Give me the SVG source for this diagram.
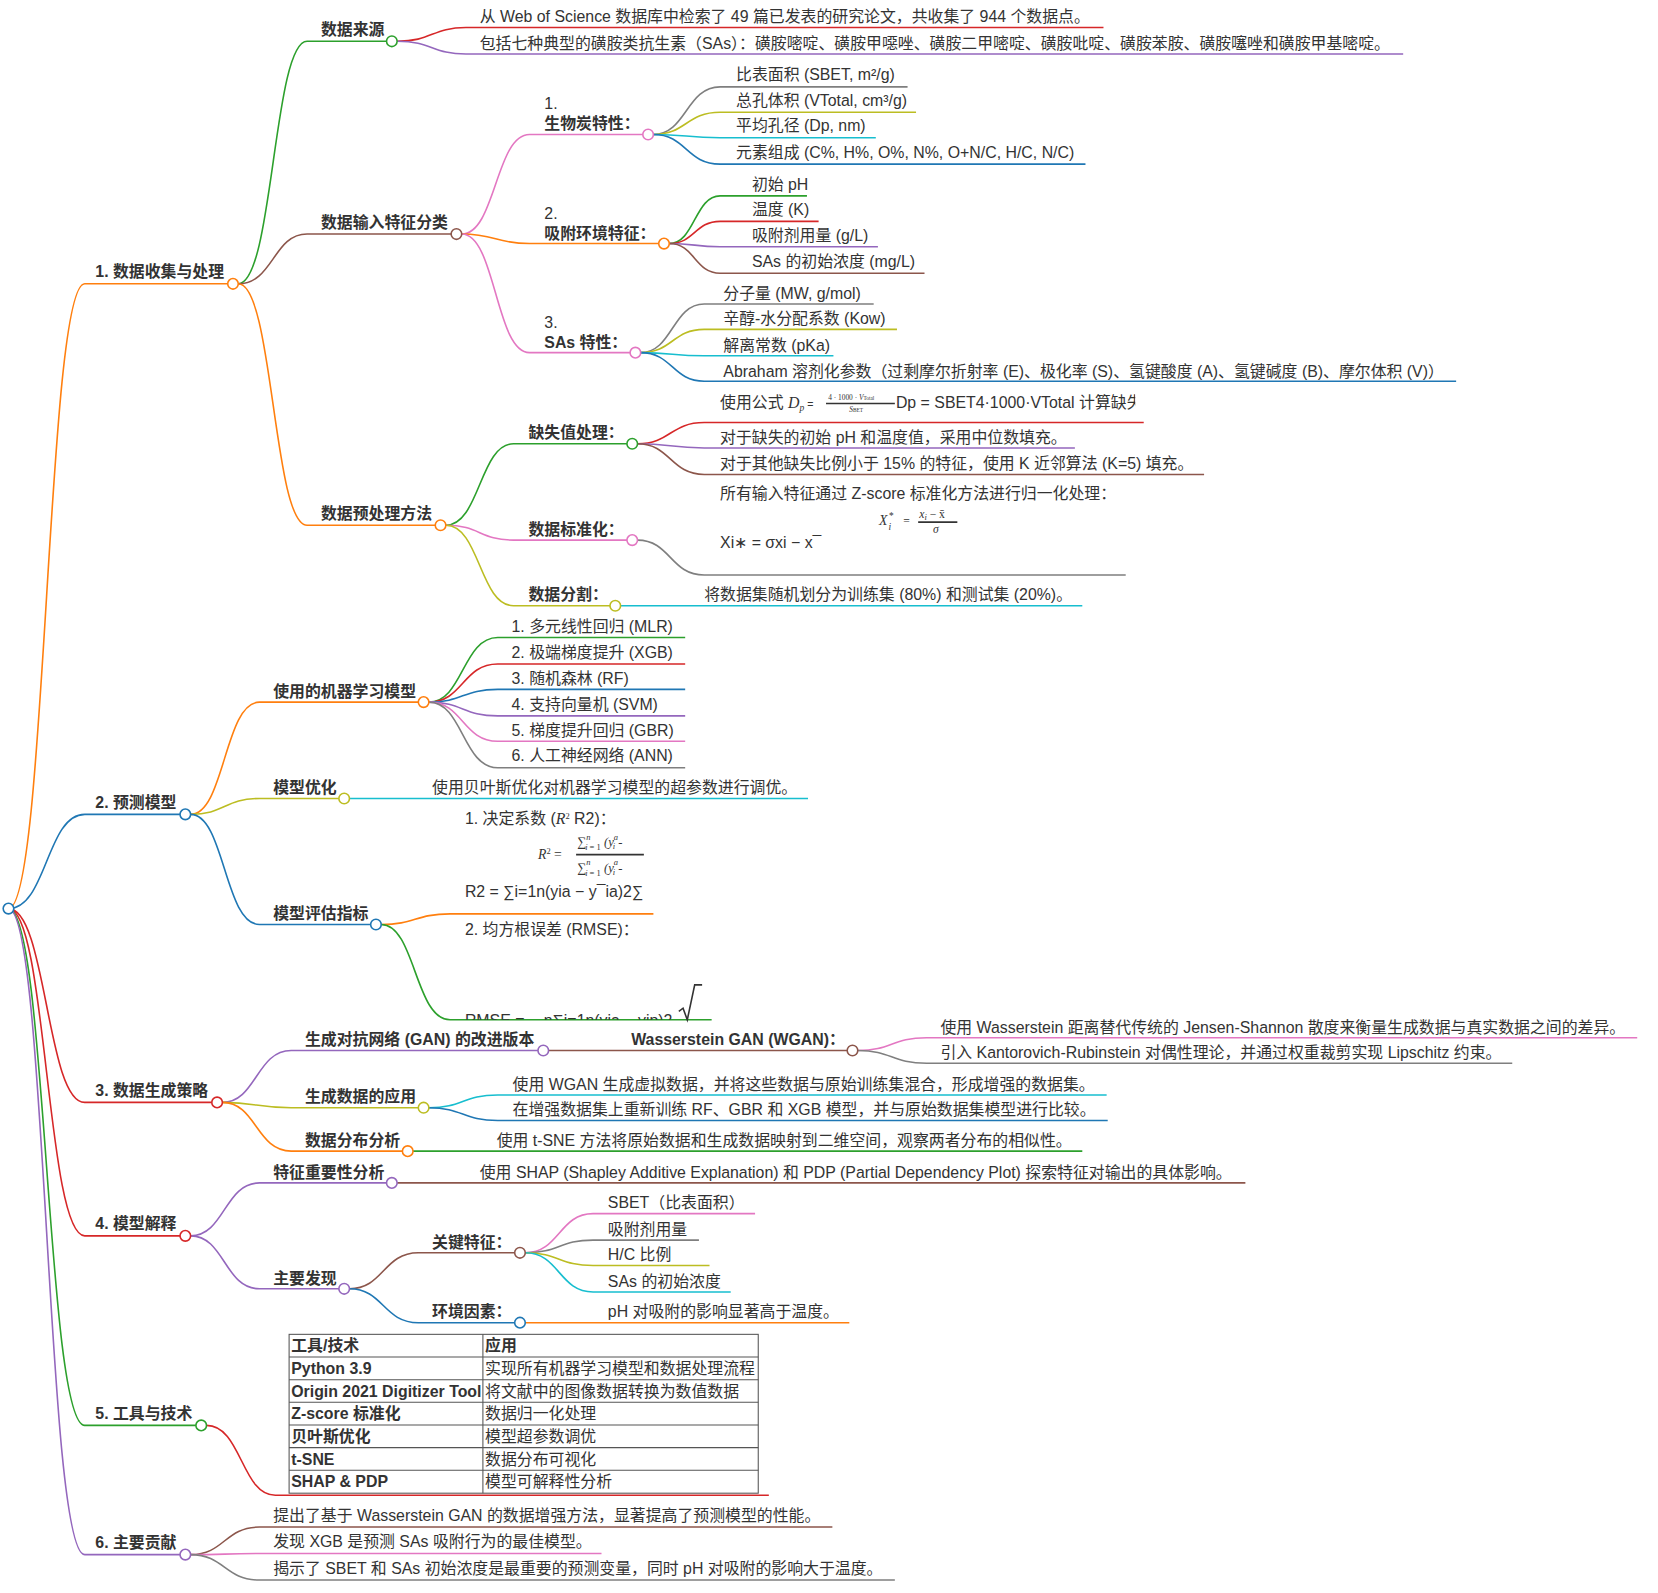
<svg xmlns="http://www.w3.org/2000/svg" width="1658" height="1593" viewBox="0 0 1658 1593">
<style>
svg{font-family:"Liberation Sans","Noto Sans CJK SC",sans-serif;font-size:15px}
text{fill:#333}
.b{font-weight:bold}
.m{font-family:"Liberation Serif","Noto Sans CJK SC",serif;font-style:italic}
path{fill:none;stroke-width:1.5}
circle{fill:#fff;stroke-width:1.5}
.G{stroke:#2ca02c}.O{stroke:#ff7f0e}.B{stroke:#1f77b4}.R{stroke:#d62728}.P{stroke:#9467bd}.N{stroke:#8c564b}.K{stroke:#e377c2}.Y{stroke:#7f7f7f}.L{stroke:#bcbd22}.C{stroke:#17becf}
.tb{fill:none;stroke:#555;stroke-width:1}
</style>
<defs>
<clipPath id="c1"><rect x="600" y="360" width="472" height="40"/></clipPath>
<clipPath id="c2"><rect x="400" y="780" width="208" height="60"/></clipPath>
<clipPath id="c3"><rect x="400" y="940" width="300" height="23"/></clipPath>
</defs>
<rect width="1658" height="1593" fill="#fff"/>
<g transform="scale(1.059)">
<g id="connectors">
<path class="O" d="M8 858 C44 858,44 268,80 268 H220"/>
<path class="B" d="M8 858 C44 858,44 769,80 769 H175"/>
<path class="R" d="M8 858 C44 858,44 1041,80 1041 H205"/>
<path class="R" d="M8 858 C44 858,44 1167,80 1167 H175"/>
<path class="G" d="M8 858 C44 858,44 1346,80 1346 H190"/>
<path class="P" d="M8 858 C44 858,44 1468,80 1468 H175"/>
<path class="G" d="M225 268 C258 268,258 39,290 39 H370"/>
<path class="N" d="M225 268 C258 268,258 221,290 221 H431"/>
<path class="O" d="M225 268 C258 268,258 496,290 496 H416"/>
<path class="R" d="M375 39 C408 39,408 26,440 26 H1042"/>
<path class="P" d="M375 39 C408 39,408 51,440 51 H1325"/>
<path class="K" d="M436 221 C468 221,468 127,500 127 H612"/>
<path class="O" d="M436 221 C468 221,468 230,500 230 H627"/>
<path class="K" d="M436 221 C468 221,468 333,500 333 H600"/>
<path class="Y" d="M617 127 C648 127,648 82,680 82 H857"/>
<path class="L" d="M617 127 C648 127,648 106,680 106 H865"/>
<path class="C" d="M617 127 C648 127,648 130,680 130 H827"/>
<path class="B" d="M617 127 C648 127,648 155,680 155 H1025"/>
<path class="G" d="M632 230 C656 230,656 185,680 185 H762"/>
<path class="R" d="M632 230 C656 230,656 209,680 209 H773"/>
<path class="P" d="M632 230 C656 230,656 233,680 233 H829"/>
<path class="N" d="M632 230 C656 230,656 258,680 258 H873"/>
<path class="Y" d="M605 333 C635 333,635 287,665 287 H825"/>
<path class="L" d="M605 333 C635 333,635 311,665 311 H847"/>
<path class="C" d="M605 333 C635 333,635 336,665 336 H787"/>
<path class="B" d="M605 333 C635 333,635 360,665 360 H1375"/>
<path class="G" d="M421 496 C453 496,453 419,485 419 H597"/>
<path class="K" d="M421 496 C453 496,453 510,485 510 H597"/>
<path class="L" d="M421 496 C453 496,453 572,485 572 H581"/>
<path class="R" d="M602 419 C633 419,633 399,665 399 H1080"/>
<path class="P" d="M602 419 C633 419,633 423,665 423 H1015"/>
<path class="N" d="M602 419 C633 419,633 448,665 448 H1137"/>
<path class="Y" d="M602 510 C633 510,633 543,665 543 H1063"/>
<path class="C" d="M586 572 H1022"/>
<path class="O" d="M180 769 C212 769,212 663,245 663 H400"/>
<path class="L" d="M180 769 C212 769,212 754,245 754 H325"/>
<path class="B" d="M180 769 C212 769,212 873,245 873 H355"/>
<path class="G" d="M405 663 C437 663,437 602,470 602 H647"/>
<path class="R" d="M405 663 C437 663,437 627,470 627 H647"/>
<path class="B" d="M405 663 C437 663,437 651,470 651 H647"/>
<path class="P" d="M405 663 C437 663,437 676,470 676 H647"/>
<path class="K" d="M405 663 C437 663,437 700,470 700 H647"/>
<path class="Y" d="M405 663 C437 663,437 725,470 725 H647"/>
<path class="C" d="M330 754 C362 754,362 754,395 754 H763"/>
<path class="O" d="M360 873 C392 873,392 863,425 863 H617"/>
<path class="G" d="M360 873 C392 873,392 963,425 963 H672"/>
<path class="P" d="M210 1041 C242 1041,242 992,275 992 H513"/>
<path class="L" d="M210 1041 C242 1041,242 1046,275 1046 H400"/>
<path class="O" d="M210 1041 C242 1041,242 1087,275 1087 H385"/>
<path class="N" d="M518 992 H805"/>
<path class="K" d="M810 992 C842 992,842 980,875 980 H1546"/>
<path class="Y" d="M810 992 C842 992,842 1004,875 1004 H1428"/>
<path class="C" d="M405 1046 C437 1046,437 1034,470 1034 H1045"/>
<path class="B" d="M405 1046 C437 1046,437 1058,470 1058 H1046"/>
<path class="G" d="M390 1087 C422 1087,422 1087,455 1087 H1022"/>
<path class="P" d="M180 1167 C212 1167,212 1117,245 1117 H370"/>
<path class="P" d="M180 1167 C212 1167,212 1217,245 1217 H325"/>
<path class="N" d="M375 1117 C407 1117,407 1117,440 1117 H1176"/>
<path class="N" d="M330 1217 C362 1217,362 1183,395 1183 H491"/>
<path class="B" d="M330 1217 C362 1217,362 1249,395 1249 H491"/>
<path class="K" d="M496 1183 C528 1183,528 1146,560 1146 H713"/>
<path class="Y" d="M496 1183 C528 1183,528 1171,560 1171 H660"/>
<path class="L" d="M496 1183 C528 1183,528 1195,560 1195 H670"/>
<path class="C" d="M496 1183 C528 1183,528 1220,560 1220 H690"/>
<path class="O" d="M496 1249 C528 1249,528 1249,560 1249 H802"/>
<path class="R" d="M195 1346 C228 1346,228 1412,260 1412 H726"/>
<path class="N" d="M180 1468 C212 1468,212 1442,245 1442 H786"/>
<path class="K" d="M180 1468 C212 1468,212 1467,245 1467 H568"/>
<path class="Y" d="M180 1468 C212 1468,212 1492,245 1492 H845"/>
</g>
<g id="root"><circle class="B" cx="8" cy="858" r="5"/></g>
<g id="n1"><text class="b" x="90" y="262">1. 数据收集与处理</text><circle class="O" cx="220" cy="268" r="5"/></g>
<g id="n2"><text class="b" x="90" y="763">2. 预测模型</text><circle class="B" cx="175" cy="769" r="5"/></g>
<g id="n3"><text class="b" x="90" y="1035">3. 数据生成策略</text><circle class="R" cx="205" cy="1041" r="5"/></g>
<g id="n4"><text class="b" x="90" y="1161">4. 模型解释</text><circle class="R" cx="175" cy="1167" r="5"/></g>
<g id="n5"><text class="b" x="90" y="1340">5. 工具与技术</text><circle class="G" cx="190" cy="1346" r="5"/></g>
<g id="n6"><text class="b" x="90" y="1462">6. 主要贡献</text><circle class="P" cx="175" cy="1468" r="5"/></g>
<g id="n11"><text class="b" x="303" y="33">数据来源</text><circle class="G" cx="370" cy="39" r="5"/></g>
<g id="n11a"><text x="453" y="21">从 Web of Science 数据库中检索了 49 篇已发表的研究论文，共收集了 944 个数据点。</text></g>
<g id="n11b"><text x="453" y="46">包括七种典型的磺胺类抗生素（SAs）：磺胺嘧啶、磺胺甲噁唑、磺胺二甲嘧啶、磺胺吡啶、磺胺苯胺、磺胺噻唑和磺胺甲基嘧啶。</text></g>
<g id="n12"><text class="b" x="303" y="215">数据输入特征分类</text><circle class="N" cx="431" cy="221" r="5"/></g>
<g id="n121"><text x="514" y="103">1.</text><text class="b" x="514" y="122">生物炭特性：</text><circle class="K" cx="612" cy="127" r="5"/></g>
<g id="n121l"><text x="695" y="76">比表面积 (SBET, m²/g)</text><text x="695" y="100">总孔体积 (VTotal, cm³/g)</text><text x="695" y="124">平均孔径 (Dp, nm)</text><text x="695" y="149">元素组成 (C%, H%, O%, N%, O+N/C, H/C, N/C)</text></g>
<g id="n122"><text x="514" y="207">2.</text><text class="b" x="514" y="226">吸附环境特征：</text><circle class="O" cx="627" cy="230" r="5"/></g>
<g id="n122l"><text x="710" y="179">初始 pH</text><text x="710" y="203">温度 (K)</text><text x="710" y="228">吸附剂用量 (g/L)</text><text x="710" y="252">SAs 的初始浓度 (mg/L)</text></g>
<g id="n123"><text x="514" y="310">3.</text><text class="b" x="514" y="329">SAs 特性：</text><circle class="K" cx="600" cy="333" r="5"/></g>
<g id="n123l"><text x="683" y="282">分子量 (MW, g/mol)</text><text x="683" y="306">辛醇-水分配系数 (Kow)</text><text x="683" y="331">解离常数 (pKa)</text><text x="683" y="356">Abraham 溶剂化参数（过剩摩尔折射率 (E)、极化率 (S)、氢键酸度 (A)、氢键碱度 (B)、摩尔体积 (V)）</text></g>
<g id="n13"><text class="b" x="303" y="490">数据预处理方法</text><circle class="O" cx="416" cy="496" r="5"/></g>
<g id="n131"><text class="b" x="499" y="414">缺失值处理：</text><circle class="G" cx="597" cy="419" r="5"/></g>
<g id="n131l" clip-path="url(#c1)"><text x="680" y="385">使用公式 <tspan class="m">D</tspan><tspan class="m" font-size="9" dy="3">p</tspan><tspan font-size="10" dy="-3"> = </tspan></text>
<text x="782" y="378" font-size="7" font-family="Liberation Serif">4 · 1000 · <tspan font-style="italic">V</tspan><tspan font-size="5">Total</tspan></text>
<path d="M780 381 H845" stroke="#333" stroke-width="0.6"/>
<text x="802" y="389" font-size="7" font-family="Liberation Serif" font-style="italic">S<tspan font-size="5" font-style="normal">BET</tspan></text>
<text x="846" y="385">Dp = SBET4·1000·VTotal 计算缺失</text></g>
<g id="n131m"><text x="680" y="418">对于缺失的初始 pH 和温度值，采用中位数填充。</text><text x="680" y="443">对于其他缺失比例小于 15% 的特征，使用 K 近邻算法 (K=5) 填充。</text></g>
<g id="n132"><text class="b" x="499" y="505">数据标准化：</text><circle class="K" cx="597" cy="510" r="5"/></g>
<g id="n132l"><text x="680" y="471">所有输入特征通过 Z-score 标准化方法进行归一化处理：</text>
<text class="m" x="830" y="496" font-size="13">X</text><text class="m" x="839" y="490" font-size="9">*</text><text class="m" x="839" y="500" font-size="9">i</text><text x="853" y="496" font-size="11" font-family="Liberation Serif">=</text>
<text class="m" x="868" y="489" font-size="11">x<tspan font-size="8" dy="2">i</tspan><tspan dy="-2" font-style="normal"> − x̄</tspan></text>
<path d="M867 493 H904" stroke="#333" stroke-width="0.7"/>
<text class="m" x="881" y="503" font-size="11">σ</text>
<text x="680" y="517">Xi∗ = σxi − x¯</text></g>
<g id="n133"><text class="b" x="499" y="567">数据分割：</text><circle class="L" cx="581" cy="572" r="5"/><text x="665" y="567">将数据集随机划分为训练集 (80%) 和测试集 (20%)。</text></g>
<g id="n21"><text class="b" x="258" y="658">使用的机器学习模型</text><circle class="O" cx="400" cy="663" r="5"/></g>
<g id="n21l"><text x="483" y="597">1. 多元线性回归 (MLR)</text><text x="483" y="621">2. 极端梯度提升 (XGB)</text><text x="483" y="646">3. 随机森林 (RF)</text><text x="483" y="670">4. 支持向量机 (SVM)</text><text x="483" y="695">5. 梯度提升回归 (GBR)</text><text x="483" y="719">6. 人工神经网络 (ANN)</text></g>
<g id="n22"><text class="b" x="258" y="749">模型优化</text><circle class="L" cx="325" cy="754" r="5"/><text x="408" y="749">使用贝叶斯优化对机器学习模型的超参数进行调优。</text></g>
<g id="n23"><text class="b" x="258" y="868">模型评估指标</text><circle class="B" cx="355" cy="873" r="5"/></g>
<g id="n23a"><text x="439" y="778">1. 决定系数 (<tspan class="m">R</tspan><tspan font-size="8" dy="-5" font-family="Liberation Serif">2</tspan><tspan dy="5"> R2)：</tspan></text>
<g clip-path="url(#c2)">
<text class="m" x="508" y="811" font-size="13">R<tspan font-size="8" dy="-5" font-style="normal">2</tspan><tspan dy="5" font-style="normal"> =</tspan></text>
<text x="545" y="799" font-size="12" font-family="Liberation Serif">∑<tspan font-size="8" dy="-6" font-style="italic">n</tspan><tspan font-size="8" dx="-5" dy="10" font-style="italic">i</tspan><tspan font-size="8"> = 1</tspan><tspan dy="-4" font-style="italic"> (y</tspan><tspan font-size="8" dy="-6" font-style="italic">a</tspan><tspan font-size="8" dx="-5" dy="9" font-style="italic">i</tspan><tspan dy="-3"> -</tspan></text>
<path d="M544 807 H612" stroke="#333" stroke-width="0.7"/>
<text x="545" y="823" font-size="12" font-family="Liberation Serif">∑<tspan font-size="8" dy="-6" font-style="italic">n</tspan><tspan font-size="8" dx="-5" dy="10" font-style="italic">i</tspan><tspan font-size="8"> = 1</tspan><tspan dy="-4" font-style="italic"> (y</tspan><tspan font-size="8" dy="-6" font-style="italic">a</tspan><tspan font-size="8" dx="-5" dy="9" font-style="italic">i</tspan><tspan dy="-3"> -</tspan></text>
</g>
<text x="439" y="847">R2 = ∑i=1n(yia − y¯ia)2∑</text></g>
<g id="n23b"><text x="439" y="883">2. 均方根误差 (RMSE)：</text>
<g clip-path="url(#c3)"><text x="439" y="969">RMSE = <tspan dx="14">n∑i=1n(yia − yip)2</tspan></text></g>
<path d="M641 955 L645 952 L649 963 L656 930 H663" stroke="#333" stroke-width="1"/></g>
<g id="n31"><text class="b" x="288" y="987">生成对抗网络 (GAN) 的改进版本</text><circle class="P" cx="513" cy="992" r="5"/></g>
<g id="n311"><text class="b" x="596" y="987">Wasserstein GAN (WGAN)：</text><circle class="N" cx="805" cy="992" r="5"/></g>
<g id="n311l"><text x="888" y="975">使用 Wasserstein 距离替代传统的 Jensen-Shannon 散度来衡量生成数据与真实数据之间的差异。</text><text x="888" y="999">引入 Kantorovich-Rubinstein 对偶性理论，并通过权重裁剪实现 Lipschitz 约束。</text></g>
<g id="n32"><text class="b" x="288" y="1041">生成数据的应用</text><circle class="L" cx="400" cy="1046" r="5"/></g>
<g id="n32l"><text x="484" y="1029">使用 WGAN 生成虚拟数据，并将这些数据与原始训练集混合，形成增强的数据集。</text><text x="484" y="1053">在增强数据集上重新训练 RF、GBR 和 XGB 模型，并与原始数据集模型进行比较。</text></g>
<g id="n33"><text class="b" x="288" y="1082">数据分布分析</text><circle class="O" cx="385" cy="1087" r="5"/><text x="469" y="1082">使用 t-SNE 方法将原始数据和生成数据映射到二维空间，观察两者分布的相似性。</text></g>
<g id="n41"><text class="b" x="258" y="1112">特征重要性分析</text><circle class="P" cx="370" cy="1117" r="5"/><text x="453" y="1112">使用 SHAP (Shapley Additive Explanation) 和 PDP (Partial Dependency Plot) 探索特征对输出的具体影响。</text></g>
<g id="n42"><text class="b" x="258" y="1212">主要发现</text><circle class="P" cx="325" cy="1217" r="5"/></g>
<g id="n421"><text class="b" x="408" y="1178">关键特征：</text><circle class="N" cx="491" cy="1183" r="5"/></g>
<g id="n421l"><text x="574" y="1141">SBET（比表面积）</text><text x="574" y="1166">吸附剂用量</text><text x="574" y="1190">H/C 比例</text><text x="574" y="1215">SAs 的初始浓度</text></g>
<g id="n422"><text class="b" x="408" y="1244">环境因素：</text><circle class="B" cx="491" cy="1249" r="5"/><text x="574" y="1244">pH 对吸附的影响显著高于温度。</text></g>
<g id="n51">
<rect class="tb" x="273" y="1260" width="443" height="150"/>
<path class="tb" d="M456 1260 V1410 M273 1281.4 H716 M273 1302.8 H716 M273 1324.2 H716 M273 1345.6 H716 M273 1367 H716 M273 1388.4 H716"/>
<text class="b" x="275" y="1276">工具/技术</text><text x="458" y="1276" class="b">应用</text>
<text class="b" x="275" y="1297">Python 3.9</text><text x="458" y="1297">实现所有机器学习模型和数据处理流程</text>
<text class="b" x="275" y="1319">Origin 2021 Digitizer Tool</text><text x="458" y="1319">将文献中的图像数据转换为数值数据</text>
<text class="b" x="275" y="1340">Z-score 标准化</text><text x="458" y="1340">数据归一化处理</text>
<text class="b" x="275" y="1362">贝叶斯优化</text><text x="458" y="1362">模型超参数调优</text>
<text class="b" x="275" y="1383">t-SNE</text><text x="458" y="1383">数据分布可视化</text>
<text class="b" x="275" y="1404">SHAP &amp; PDP</text><text x="458" y="1404">模型可解释性分析</text>
</g>
<g id="n6l"><text x="258" y="1436">提出了基于 Wasserstein GAN 的数据增强方法，显著提高了预测模型的性能。</text><text x="258" y="1461">发现 XGB 是预测 SAs 吸附行为的最佳模型。</text><text x="258" y="1486">揭示了 SBET 和 SAs 初始浓度是最重要的预测变量，同时 pH 对吸附的影响大于温度。</text></g>
</g>
</svg>
